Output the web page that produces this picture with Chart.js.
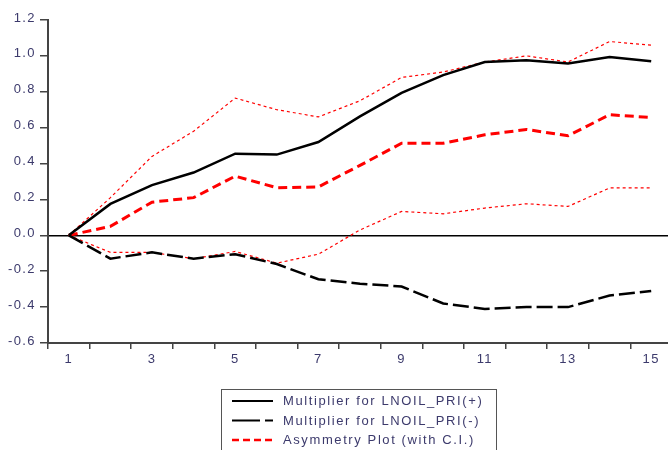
<!DOCTYPE html>
<html>
<head>
<meta charset="utf-8">
<script src="https://cdn.jsdelivr.net/npm/chart.js@4/dist/chart.umd.min.js"></script>
<style>
  html, body { margin: 0; padding: 0; background: #fff; overflow: hidden; width: 668px; height: 450px; }
  #wrap { position: relative; width: 672px; height: 450px; }
</style>
</head>
<body>
<div id="wrap"><canvas id="c" width="672" height="450"></canvas></div>
<script>
const categories = ['1','2','3','4','5','6','7','8','9','10','11','12','13','14','15'];
const positiveMultiplier = [0, 0.175, 0.28, 0.35, 0.455, 0.45, 0.52, 0.663, 0.794, 0.893, 0.966, 0.976, 0.957, 0.994, 0.97];
const negativeMultiplier = [0, -0.13, -0.095, -0.13, -0.105, -0.16, -0.245, -0.27, -0.285, -0.38, -0.41, -0.40, -0.40, -0.335, -0.31];
const asymmetry = [0, 0.05, 0.185, 0.21, 0.33, 0.265, 0.27, 0.39, 0.513, 0.513, 0.56, 0.59, 0.555, 0.672, 0.657];
const upperCI = [0, 0.21, 0.44, 0.58, 0.765, 0.70, 0.66, 0.75, 0.88, 0.91, 0.966, 1.0, 0.966, 1.08, 1.06];
const lowerCI = [0, -0.095, -0.095, -0.13, -0.09, -0.155, -0.105, 0.03, 0.133, 0.12, 0.152, 0.176, 0.161, 0.264, 0.264];
const yTicks = [1.2, 1.0, 0.8, 0.6, 0.4, 0.2, 0.0, -0.2, -0.4, -0.6];
const legendLabels = ['Multiplier for LNOIL_PRI(+)', 'Multiplier for LNOIL_PRI(-)', 'Asymmetry Plot (with C.I.)'];

const textColor = '#3c3a6c';
const fontFamily = '"Liberation Sans", Arial, sans-serif';

const spacing = {
  id: 'spacing',
  beforeDraw(chart) { if ('letterSpacing' in chart.ctx) chart.ctx.letterSpacing = '1.4px'; },
  afterDraw(chart) { if ('letterSpacing' in chart.ctx) chart.ctx.letterSpacing = '0px'; }
};

const boxLegend = {
  id: 'boxLegend',
  afterDraw(chart) {
    const ctx = chart.ctx;
    const ds = chart.data.datasets;
    ctx.save();
    ctx.strokeStyle = '#555';
    ctx.lineWidth = 1;
    ctx.setLineDash([]);
    ctx.strokeRect(221.5, 389.5, 275, 70);
    const rows = [401, 420.5, 440];
    for (let i = 0; i < 3; i++) {
      const d = ds[i];
      ctx.beginPath();
      ctx.strokeStyle = d.borderColor;
      ctx.lineWidth = i === 2 ? 2.5 : 2;
      ctx.setLineDash(i === 0 ? [] : (i === 1 ? [28, 5, 8, 100] : [7, 4]));
      ctx.moveTo(232, rows[i]);
      ctx.lineTo(273, rows[i]);
      ctx.stroke();
      ctx.setLineDash([]);
      ctx.fillStyle = textColor;
      ctx.font = '13px ' + fontFamily;
      if ('letterSpacing' in ctx) ctx.letterSpacing = '1.6px';
      ctx.textBaseline = 'middle';
      ctx.textAlign = 'left';
      ctx.fillText(legendLabels[i], 283, rows[i] + 0.5);
    }
    ctx.restore();
  }
};

new Chart(document.getElementById('c'), {
  type: 'line',
  data: {
    labels: categories,
    datasets: [
      { label: legendLabels[0], data: positiveMultiplier, borderColor: '#000', borderWidth: 2.5, pointRadius: 0, tension: 0 },
      { label: legendLabels[1], data: negativeMultiplier, borderColor: '#000', borderWidth: 2.5, borderDash: [16, 5], pointRadius: 0, tension: 0 },
      { label: legendLabels[2], data: asymmetry, borderColor: '#ff0000', borderWidth: 3, borderDash: [9, 5], pointRadius: 0, tension: 0 },
      { label: 'Upper C.I.', data: upperCI, borderColor: '#ff0000', borderWidth: 1.2, borderDash: [3, 3], pointRadius: 0, tension: 0 },
      { label: 'Lower C.I.', data: lowerCI, borderColor: '#ff0000', borderWidth: 1.2, borderDash: [3, 3], pointRadius: 0, tension: 0 }
    ]
  },
  options: {
    responsive: false,
    animation: false,
    layout: { padding: { top: 20, right: 0, left: 0, bottom: 0 } },
    plugins: { legend: { display: false }, tooltip: { enabled: false } },
    scales: {
      x: {
        type: 'category',
        offset: true,
        afterFit(s) { s.height = 450 - 343; },
        border: { display: true, color: '#444', width: 2 },
        grid: { offset: true, drawOnChartArea: false, drawTicks: true, tickLength: 6, color: '#444', lineWidth: 1.5 },
        ticks: {
          autoSkip: false, maxRotation: 0, padding: 3,
          color: textColor, font: { family: fontFamily, size: 13 },
          callback(v, i) { return (i % 2 === 0) ? categories[i] : ''; }
        }
      },
      y: {
        min: -0.6, max: 1.2,
        afterFit(s) { s.width = 48; },
        afterBuildTicks(s) { s.ticks = yTicks.map(v => ({ value: v })); },
        border: { display: true, color: '#444', width: 2 },
        grid: {
          drawTicks: true, tickLength: 8,
          color(c) { return c.tick && Math.abs(c.tick.value) < 1e-9 ? '#000' : 'rgba(0,0,0,0)'; },
          tickColor: '#444',
          lineWidth: 1.5
        },
        ticks: {
          padding: 4, labelOffset: -2, color: textColor, font: { family: fontFamily, size: 13 },
          callback(v) { return Number(v).toFixed(1); }
        }
      }
    }
  },
  plugins: [spacing, boxLegend]
});
</script>
</body>
</html>
